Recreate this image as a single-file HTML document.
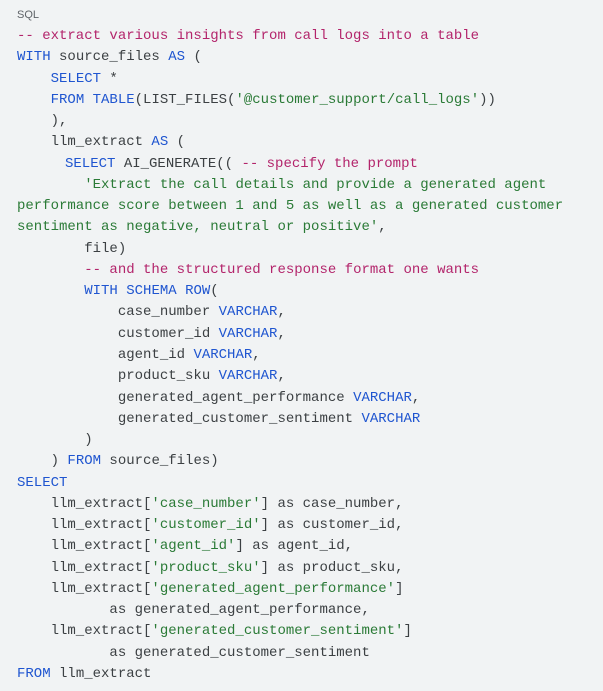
<!DOCTYPE html>
<html><head><meta charset="utf-8"><style>
html,body{margin:0;padding:0;}
body{width:603px;height:691px;background:#f1f3f4;overflow:hidden;position:relative;}
.lbl{position:absolute;left:17px;top:9px;font:11px "Liberation Sans",sans-serif;color:#5f6368;}
pre{position:absolute;left:17px;top:26px;margin:0;font:14px/21.27px "Liberation Mono",monospace;color:#3c4043;}
.c{color:#b3246b}.k{color:#1f55d0}.s{color:#2a7a36}
</style></head><body>
<div class="lbl">SQL</div>
<pre><span class="c">-- extract various insights from call logs into a table</span>
<span class="k">WITH</span> source_files <span class="k">AS</span> (
    <span class="k">SELECT</span> *
    <span class="k">FROM</span> <span class="k">TABLE</span>(LIST_FILES(<span class="s">'@customer_support/call_logs'</span>))
    ),
    llm_extract <span class="k">AS</span> (
<span style="margin-left:48px"></span><span class="k">SELECT</span> AI_GENERATE(( <span class="c">-- specify the prompt</span>
        <span class="s">'Extract the call details and provide a generated agent</span>
<span class="s">performance score between 1 and 5 as well as a generated customer</span>
<span class="s">sentiment as negative, neutral or positive'</span>,
        file)
        <span class="c">-- and the structured response format one wants</span>
        <span class="k">WITH</span> <span class="k">SCHEMA</span> <span class="k">ROW</span>(
            case_number <span class="k">VARCHAR</span>,
            customer_id <span class="k">VARCHAR</span>,
            agent_id <span class="k">VARCHAR</span>,
            product_sku <span class="k">VARCHAR</span>,
            generated_agent_performance <span class="k">VARCHAR</span>,
            generated_customer_sentiment <span class="k">VARCHAR</span>
        )
    ) <span class="k">FROM</span> source_files)
<span class="k">SELECT</span>
    llm_extract[<span class="s">'case_number'</span>] as case_number,
    llm_extract[<span class="s">'customer_id'</span>] as customer_id,
    llm_extract[<span class="s">'agent_id'</span>] as agent_id,
    llm_extract[<span class="s">'product_sku'</span>] as product_sku,
    llm_extract[<span class="s">'generated_agent_performance'</span>]
           as generated_agent_performance,
    llm_extract[<span class="s">'generated_customer_sentiment'</span>]
           as generated_customer_sentiment
<span class="k">FROM</span> llm_extract</pre>
</body></html>
